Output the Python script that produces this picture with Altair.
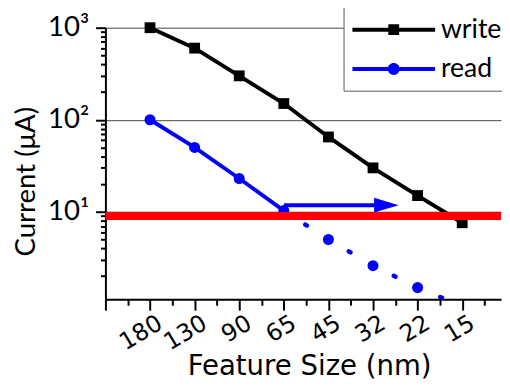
import altair as alt
import pandas as pd

# ---- data ----
x_labels = ["180", "130", "90", "65", "45", "32", "22", "15"]   # feature size (nm), positions 1..8
write_idx = [1, 2, 3, 4, 5, 6, 7, 8]
write_vals = [1000, 600, 300, 150, 65, 30, 15, 7.6]
read_idx = [1, 2, 3, 4]
read_vals = [100, 50, 23, 10.3]
proj_idx = [4, 5, 6, 7, 8]
proj_vals = [10.3, 5.0, 2.6, 1.5, 0.94]
proj_marker_idx = [5, 6, 7]
proj_marker_vals = [5.0, 2.6, 1.5]
arrow_idx = [4, 6.2]
arrow_vals = [11.8, 11.8]
arrow_head_idx = [6.3]
arrow_head_vals = [11.8]
red_level = [9]
series_names = ["write", "read"]
series_colors = ["black", "blue"]
y_major = [10, 100, 1000]
y_major_labels = ["10\u00b9", "10\u00b2", "10\u00b3"]

# ---- tables ----
df_write = pd.DataFrame({"idx": write_idx, "val": write_vals, "series": "write"})
df_read = pd.DataFrame({"idx": read_idx, "val": read_vals, "series": "read"})
df_pts = pd.concat([df_write, df_read], ignore_index=True)
df_proj = pd.DataFrame({"idx": proj_idx, "val": proj_vals})
df_proj_m = pd.DataFrame({"idx": proj_marker_idx, "val": proj_marker_vals})
df_arrow = pd.DataFrame({"idx": arrow_idx, "val": arrow_vals})
df_head = pd.DataFrame({"idx": arrow_head_idx, "val": arrow_head_vals})
df_red = pd.DataFrame({"val": red_level})

# ---- axes ----
x_ticks = [i * 0.5 for i in range(0, 18)]
lab_arr = "[''," + ",".join("'" + s + "'" for s in x_labels) + "]"
x_label_expr = "(datum.value % 1 == 0 && datum.value >= 1) ? " + lab_arr + "[datum.value] : ''"

y_ticks = []
for dec in [1, 10, 100]:
    for m in range(2, 10):
        y_ticks.append(m * dec)
y_ticks += y_major
y_ticks = sorted(y_ticks)
y_test = "indexof([" + ",".join(str(v) for v in y_major) + "], datum.value) >= 0"
y_label_expr = " : ".join(
    "datum.value == " + str(v) + " ? '" + l + "'" for v, l in zip(y_major, y_major_labels)
) + " : ''"

x_enc = alt.X(
    "idx:Q",
    scale=alt.Scale(domain=[0, 8.87], nice=False, zero=False),
    axis=alt.Axis(
        values=x_ticks,
        labelExpr=x_label_expr,
        title="Feature Size (nm)",
        titleFont="DejaVu Sans",
        titleFontSize=28,
        titleFontWeight="normal",
        titleColor="black",
        titleAlign="center",
        titleBaseline="alphabetic",
        titleX=207,
        titleY=76,
        labelFont="DejaVu Sans",
        labelFontSize=24,
        labelColor="black",
        labelAngle=329,
        labelAlign="right",
        labelBaseline="top",
        labelOffset=4,
        labelPadding=1,
        labelOverlap=False,
        labelFlush=False,
        tickSize={"condition": {"test": "datum.value % 1 == 0", "value": 11}, "value": 6},
        tickWidth=2,
        tickColor="black",
        domainColor="black",
        domainWidth=2,
        grid=False,
    ),
)

y_enc = alt.Y(
    "val:Q",
    scale=alt.Scale(type="log", domain=[1.12, 1000], nice=False),
    axis=alt.Axis(
        values=y_ticks,
        labelExpr=y_label_expr,
        title="Current (\u03bcA)",
        titleFont="Lato",
        titleFontSize=28,
        titleFontWeight="normal",
        titleColor="black",
        titleAngle=270,
        titleAlign="center",
        titleBaseline="middle",
        titleX=-80,
        titleY=156,
        labelFont="Lato",
        labelFontSize=28,
        labelColor="black",
        labelAlign="right",
        labelBaseline="middle",
        labelPadding=7,
        labelOverlap=False,
        labelFlush=False,
        tickSize={"condition": {"test": y_test, "value": 10}, "value": 5},
        tickWidth=2,
        tickColor="black",
        domainColor="black",
        domainWidth=2,
        grid=True,
        gridColor="#444444",
        gridWidth=1,
        gridOpacity={"condition": {"test": y_test, "value": 1}, "value": 0},
    ),
)

# ---- legend symbols (line with marker); unit = 14 px ----
p_write = "M-1,-0.143H5V0.143H-1Z M1.607,-0.393H2.393V0.393H1.607Z"
p_read = ("M-1,-0.143H5V0.143H-1Z M1.57,0A0.43,0.43,0,1,1,2.43,0"
          "A0.43,0.43,0,1,1,1.57,0Z")
legend = alt.Legend(
    title=None,
    orient="none",
    legendX=242,
    legendY=-21,
    symbolSize=784,
    symbolStrokeWidth=0,
    symbolOpacity=1,
    labelFont="Lato",
    labelFontSize=27,
    labelColor="black",
    labelOffset=62,
    padding=9,
    rowPadding=13,
    strokeColor="#555555",
    fillColor="white",
)
color_enc = alt.Color(
    "series:N",
    scale=alt.Scale(domain=series_names, range=series_colors),
    sort=series_names,
    legend=legend,
)
shape_enc = alt.Shape(
    "series:N",
    scale=alt.Scale(domain=series_names, range=[p_write, p_read]),
    sort=series_names,
    legend=legend,
)

# ---- layers ----
write_line = alt.Chart(df_write).mark_line(color="black", strokeWidth=4).encode(x=x_enc, y=y_enc)
read_line = alt.Chart(df_read).mark_line(color="blue", strokeWidth=4).encode(x=x_enc, y=y_enc)
proj_line = alt.Chart(df_proj).mark_line(
    color="blue", strokeWidth=4.5, strokeDash=[2, 24], strokeCap="round", clip=True
).encode(x=x_enc, y=y_enc)
proj_pts = alt.Chart(df_proj_m).mark_point(
    color="blue", filled=True, opacity=1, size=125, shape="circle"
).encode(x=x_enc, y=y_enc)
write_pts = alt.Chart(df_write).mark_point(
    color="black", filled=True, opacity=1, size=121, shape="square"
).encode(x=x_enc, y=y_enc)
read_pts = alt.Chart(df_read).mark_point(
    color="blue", filled=True, opacity=1, size=125, shape="circle"
).encode(x=x_enc, y=y_enc)
legend_layer = alt.Chart(df_pts).mark_point(filled=True, opacity=0, size=10).encode(
    x=x_enc, y=y_enc, color=color_enc, shape=shape_enc
)
red = alt.Chart(df_red).mark_rule(color="#ff0000", strokeWidth=8).encode(y=y_enc)
arrow = alt.Chart(df_arrow).mark_line(color="blue", strokeWidth=4).encode(x=x_enc, y=y_enc)
head = alt.Chart(df_head).mark_point(
    shape="M-1,-0.6L1,0L-1,0.6Z", filled=True, opacity=1, color="blue", size=625
).encode(x=x_enc, y=y_enc)

chart = alt.layer(
    write_line, read_line, proj_line, proj_pts, write_pts, read_pts, legend_layer,
    red, arrow, head
).properties(
    width=402,
    height=276,
    background="white",
    autosize=alt.AutoSizeParams(type="none"),
    padding={"left": 99, "top": 17, "right": 1, "bottom": 80},
).configure_view(stroke=None)

chart.save("out.html", embed_options={"renderer": "svg", "actions": False})
